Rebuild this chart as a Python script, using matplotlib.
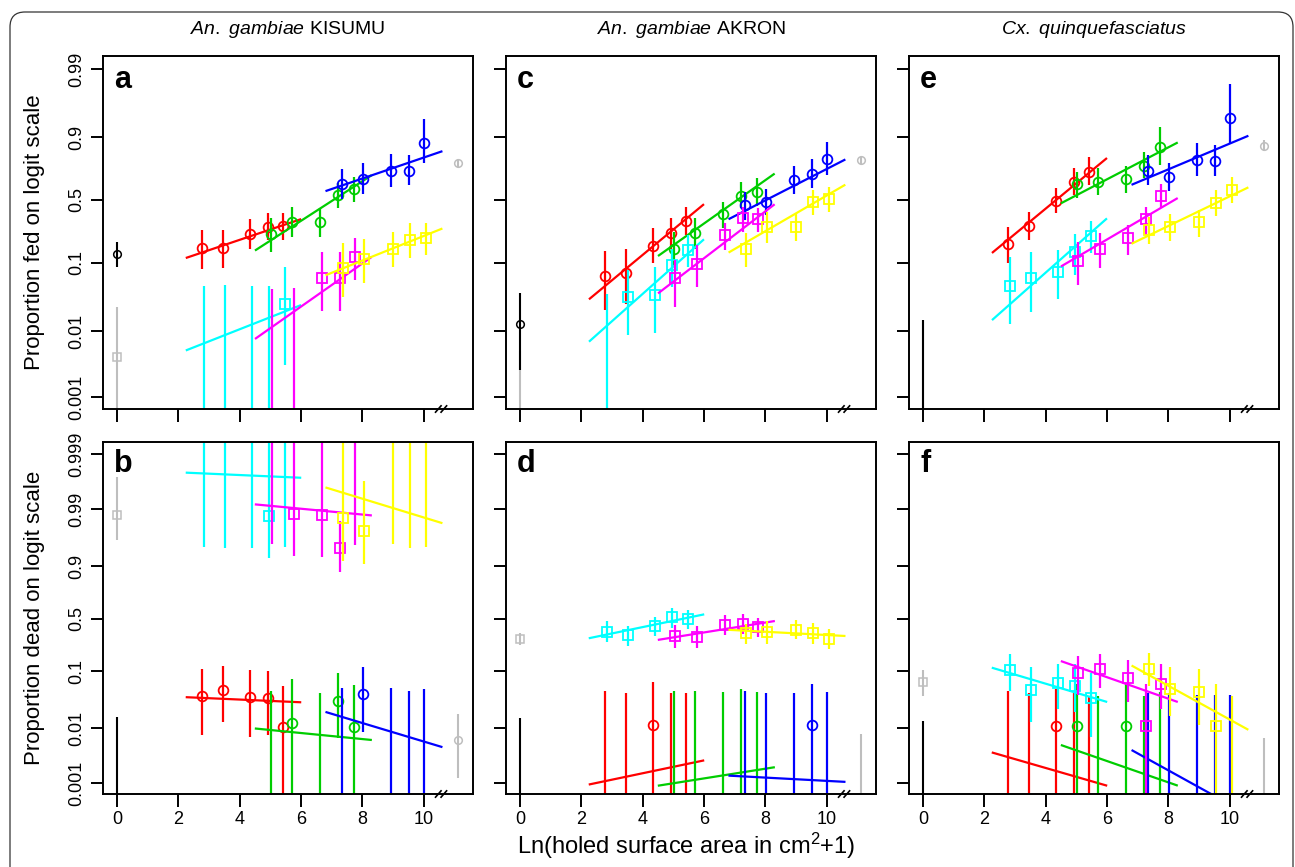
import numpy as np
import matplotlib
matplotlib.use('Agg')
import matplotlib.pyplot as plt
from matplotlib.patches import FancyBboxPatch
from matplotlib.ticker import NullLocator
from matplotlib.transforms import blended_transform_factory

plt.rcParams['font.family'] = ['Liberation Sans', 'DejaVu Sans']
plt.rcParams['mathtext.fontset'] = 'custom'
plt.rcParams['mathtext.rm'] = 'Liberation Sans'
plt.rcParams['mathtext.it'] = 'Liberation Sans:italic'

nan = np.nan

# ln(holed area + 1) for each hole-size class (circles = fed/dead groups, squares offset a bit)
x_small_c = [2.78, 3.45, 4.34, 4.92, 5.42]
x_med_c = [5.03, 5.71, 6.62, 7.20, 7.73]
x_large_c = [7.33, 8.02, 8.93, 9.51, 10.02]
x_small_s = [2.83, 3.51, 4.39, 4.97, 5.47]
x_med_s = [5.07, 5.77, 6.68, 7.26, 7.77]
x_large_s = [7.37, 8.06, 8.98, 9.56, 10.07]
x_ctrl = [0, 0, 11.1]   # untreated (black), control (grey square), intact (grey circle)

# rows: red, green, blue, cyan, magenta, yellow
# --- a: proportion fed, An. gambiae KISUMU
a_est = [[0.158, 0.158, 0.231, 0.281, 0.289],
         [0.231, 0.318, 0.316, 0.541, 0.595],
         [0.634, 0.677, 0.737, 0.737, 0.880],
         [nan, nan, nan, nan, 0.0253],
         [nan, nan, 0.0613, 0.0613, 0.118],
         [0.0855, 0.112, 0.153, 0.198, 0.207]]
a_lo = [[0.082, 0.085, 0.152, 0.198, 0.198],
        [0.141, 0.213, 0.216, 0.428, 0.485],
        [0.506, 0.552, 0.615, 0.629, 0.784],
        [0, 0, 0, 0, 0.00305],
        [0, 0, 0.0202, 0.0198, 0.0568],
        [0.0326, 0.0511, 0.0862, 0.114, 0.127]]
a_hi = [[0.259, 0.259, 0.338, 0.389, 0.385],
        [0.345, 0.442, 0.428, 0.648, 0.694],
        [0.746, 0.784, 0.833, 0.829, 0.944],
        [0.047, 0.048, 0.047, 0.047, 0.088],
        [0.042, 0.043, 0.141, 0.141, 0.207],
        [0.179, 0.201, 0.248, 0.310, 0.310]]
a_fit = [(-2.85, 0.363), (-4.90, 0.695), (-2.19, 0.368),
         (-6.23, 0.424), (-8.28, 0.757), (-5.57, 0.431)]
a_ctrl = [(0.131, 0.088, 0.185), (0.0041, 0, 0.023), (0.787, 0.76, 0.81)]

# --- c: proportion fed, An. gambiae AKRON
c_est = [[0.064, 0.072, 0.168, 0.237, 0.325],
         [0.154, 0.237, 0.380, 0.535, 0.567],
         [0.456, 0.485, 0.668, 0.711, 0.808],
         [nan, 0.0326, 0.0345, 0.092, 0.148],
         [0.0613, 0.0953, 0.224, 0.350, 0.336],
         [0.154, 0.277, 0.281, 0.480, 0.509]]
c_lo = [[0.021, 0.0258, 0.098, 0.154, 0.226],
        [0.088, 0.154, 0.271, 0.428, 0.448],
        [0.332, 0.371, 0.552, 0.601, 0.706],
        [0, 0.0087, 0.0092, 0.0456, 0.088],
        [0.0232, 0.0456, 0.148, 0.248, 0.248],
        [0.0862, 0.179, 0.19, 0.371, 0.399]]
c_hi = [[0.144, 0.151, 0.271, 0.345, 0.442],
        [0.248, 0.345, 0.485, 0.655, 0.681],
        [0.572, 0.593, 0.767, 0.807, 0.886],
        [0.0356, 0.079, 0.088, 0.154, 0.226],
        [0.108, 0.171, 0.310, 0.442, 0.43],
        [0.241, 0.399, 0.39, 0.587, 0.615]]
c_fit = [(-5.49, 0.891), (-5.39, 0.761), (-4.42, 0.551),
         (-7.13, 0.959), (-6.98, 0.823), (-6.10, 0.626)]
c_ctrl = [(0.0127, 0.00257, 0.0366), (nan, 0, 0.005), (0.80, 0.78, 0.82)]

# --- e: proportion fed, Cx. quinquefasciatus
e_est = [[0.176, 0.289, 0.494, 0.655, 0.729],
         [0.634, 0.655, 0.677, 0.767, 0.864],
         [0.737, 0.690, 0.802, 0.799, 0.947],
         [0.047, 0.060, 0.0745, 0.141, 0.221],
         [0.106, 0.153, 0.211, 0.339, 0.535],
         [0.259, 0.277, 0.314, 0.471, 0.587]]
e_lo = [[0.098, 0.198, 0.385, 0.544, 0.629],
        [0.515, 0.544, 0.565, 0.681, 0.774],
        [0.629, 0.582, 0.698, 0.698, 0.882],
        [0.0127, 0.0195, 0.0299, 0.067, 0.134],
        [0.048, 0.083, 0.127, 0.226, 0.428],
        [0.176, 0.193, 0.216, 0.363, 0.477]]
e_hi = [[0.281, 0.399, 0.601, 0.752, 0.821],
        [0.729, 0.752, 0.767, 0.845, 0.928],
        [0.829, 0.784, 0.880, 0.873, 0.983],
        [0.118, 0.137, 0.148, 0.233, 0.323],
        [0.188, 0.241, 0.293, 0.442, 0.637],
        [0.358, 0.380, 0.413, 0.587, 0.690]]
e_fit = [(-3.86, 0.889), (-2.64, 0.561), (-2.54, 0.452),
         (-6.36, 0.953), (-5.17, 0.631), (-5.07, 0.52)]
e_ctrl = [(nan, 0, 0.0146), (nan, 0, 0.0146), (0.871, 0.85, 0.89)]

# --- b: proportion dead, An. gambiae KISUMU
b_est = [[0.0385, 0.048, 0.0356, 0.0345, 0.0104],
         [nan, 0.0127, nan, 0.0314, 0.0106],
         [nan, 0.0415, nan, nan, nan],
         [nan, nan, nan, 0.9869, nan],
         [nan, 0.988, 0.9873, 0.951, nan],
         [0.9854, 0.9751, nan, nan, nan]]
b_lo = [[0.0077, 0.013, 0.0071, 0.0077, 0],
        [0, 0, 0, 0.0066, 0],
        [0, 0.0085, 0, 0, 0],
        [0.953, 0.952, 0.952, 0.928, 0.953],
        [0.958, 0.934, 0.93, 0.876, 0.956],
        [0.92, 0.910, 0.959, 0.952, 0.954]]
b_hi = [[0.109, 0.121, 0.103, 0.10, 0.056],
        [0.047, 0.073, 0.042, 0.092, 0.058],
        [0.052, 0.118, 0.051, 0.046, 0.049],
        [1, 1, 1, 1, 1],
        [1, 1, 1, 0.984, 1],
        [1, 0.9969, 1, 1, 1]]
b_fit = [(-3.16, -0.057), (-4.03, -0.127), (-1.27, -0.388),
         (6.26, -0.057), (5.35, -0.122), (8.19, -0.394)]
b_ctrl = [(nan, 0, 0.0157), (0.9875, 0.964, 0.99743), (0.0062, 0.00123, 0.018)]

# --- d: proportion dead, An. gambiae AKRON
d_est = [[nan, nan, 0.0116, nan, nan],
         [nan, nan, nan, nan, nan],
         [nan, nan, nan, 0.0113, nan],
         [0.369, 0.337, 0.430, 0.514, 0.503],
         [0.328, 0.322, 0.437, 0.444, 0.419],
         [0.354, 0.369, 0.386, 0.359, 0.298]]
d_lo = [[0, 0, 0, 0, 0],
        [0, 0, 0, 0, 0],
        [0, 0, 0, 0, 0],
        [0.277, 0.242, 0.328, 0.403, 0.393],
        [0.23, 0.225, 0.337, 0.344, 0.319],
        [0.261, 0.261, 0.297, 0.261, 0.218]]
d_hi = [[0.046, 0.043, 0.0654, 0.043, 0.043],
        [0.047, 0.046, 0.045, 0.049, 0.045],
        [0.047, 0.043, 0.043, 0.062, 0.045],
        [0.472, 0.427, 0.521, 0.611, 0.591],
        [0.437, 0.427, 0.542, 0.55, 0.507],
        [0.444, 0.472, 0.485, 0.458, 0.393]]
d_fit = [(-7.56, 0.270), (-7.92, 0.204), (-6.11, -0.069),
         (-1.416, 0.267), (-1.82, 0.208), (0.0, -0.068)]
d_ctrl = [(nan, 0, 0.0153), (0.304, 0.25, 0.359), (nan, 0, 0.0078)]

# --- f: proportion dead, Cx. quinquefasciatus
f_est = [[nan, nan, 0.0109, nan, nan],
         [0.0109, nan, 0.0109, nan, nan],
         [nan, nan, nan, nan, nan],
         [0.103, 0.048, 0.063, 0.057, 0.035],
         [0.092, 0.107, 0.076, 0.0111, 0.061],
         [0.109, 0.050, 0.044, 0.0109, nan]]
f_lo = [[0, 0, 0, 0, 0],
        [0, 0, 0, 0, 0],
        [0, 0, 0, 0, 0],
        [0.047, 0.013, 0.0225, 0.020, 0.0071],
        [0.040, 0.052, 0.030, 0, 0.0225],
        [0.056, 0.0164, 0.0116, 0, 0]]
f_hi = [[0.046, 0.043, 0.049, 0.043, 0.038],
        [0.06, 0.038, 0.06, 0.038, 0.045],
        [0.043, 0.043, 0.04, 0.04, 0.04],
        [0.188, 0.116, 0.131, 0.131, 0.094],
        [0.174, 0.188, 0.149, 0.06, 0.129],
        [0.19, 0.116, 0.109, 0.06, 0.0385]]
f_fit = [(-4.77, -0.372), (-3.28, -0.448), (-0.665, -0.712),
         (-1.19, -0.383), (0.255, -0.451), (2.86, -0.709)]
f_ctrl = [(nan, 0, 0.0138), (0.0654, 0.0373, 0.103), (nan, 0, 0.0068)]

titles = ['An. gambiae', 'An. gambiae', 'Cx. quinquefasciatus']
strains = [' KISUMU', ' AKRON', '']
fed_ticks = [0.001, 0.01, 0.1, 0.5, 0.9, 0.99]
dead_ticks = [0.001, 0.01, 0.1, 0.5, 0.9, 0.99, 0.999]

colors = ['#FF0000', '#00CD00', '#0000FF', '#00FFFF', '#FF00FF', '#FFFF00']
markers = ['o', 'o', 'o', 's', 's', 's']
xs_all = [x_small_c, x_med_c, x_large_c, x_small_s, x_med_s, x_large_s]
GREY = '#BEBEBE'

fig = plt.figure(figsize=(12.95, 8.67), dpi=100)
W, H = 1295, 867
lefts = [103, 506, 909]


def draw(ax, est, lo, hi, fit, ctrl, letter, ticks, ylim, row, col):
    ax.set_yscale('logit', nonpositive='clip')
    ax.set_xlim(-0.45, 11.6)
    ax.set_ylim(*ylim)
    # controls: grey first, black on top
    for (p, l, h), xc, mk, colr in [(ctrl[1], x_ctrl[1], 's', GREY),
                                   (ctrl[2], x_ctrl[2], 'o', GREY),
                                   (ctrl[0], x_ctrl[0], 'o', 'black')]:
        ax.vlines(xc, l, h, color=colr, lw=1.5)
        ax.plot([xc], [p], ls='none', marker=mk, ms=5.5, mfc='none', mec=colr, mew=1.1)
    for k in range(6):
        xs = xs_all[k]
        ax.vlines(xs, lo[k], hi[k], color=colors[k], lw=1.6)
        ax.plot(xs, est[k], ls='none', marker=markers[k], ms=7, mfc='none',
                mec=colors[k], mew=1.3)
        size = k % 3
        xl = np.array([xs_all[size][0] - 0.5, xs_all[size + 3][-1] + 0.5])
        a0, b0 = fit[k]
        ax.plot(xl, 1 / (1 + np.exp(-(a0 + b0 * xl))), color=colors[k], lw=1.6)

    ax.set_yticks(ticks, [str(t) for t in ticks], rotation=90, va='center')
    ax.yaxis.set_minor_locator(NullLocator())
    ax.set_xticks([0, 2, 4, 6, 8, 10])
    ax.tick_params(direction='out', length=9, width=1.4, labelsize=13, pad=3)
    ax.tick_params(axis='y', pad=4)
    if col > 0:
        ax.tick_params(labelleft=False)
    if row == 0:
        ax.tick_params(labelbottom=False)
    for s in ax.spines.values():
        s.set_linewidth(1.4)
    ax.text(0.03, 0.91 if row == 0 else 0.915, letter, transform=ax.transAxes,
            fontsize=22, fontweight='bold', va='baseline', ha='left')
    # axis break marks
    tr = blended_transform_factory(ax.transData, ax.transAxes)
    for dx in (-0.09, 0.09):
        ax.plot([10.56 + dx - 0.09, 10.56 + dx + 0.09], [-0.009, 0.009],
                transform=tr, color='black', lw=1.2, clip_on=False)


panels = [
    (0, 0, a_est, a_lo, a_hi, a_fit, a_ctrl, 'a'),
    (1, 0, c_est, c_lo, c_hi, c_fit, c_ctrl, 'c'),
    (2, 0, e_est, e_lo, e_hi, e_fit, e_ctrl, 'e'),
    (0, 1, b_est, b_lo, b_hi, b_fit, b_ctrl, 'b'),
    (1, 1, d_est, d_lo, d_hi, d_fit, d_ctrl, 'd'),
    (2, 1, f_est, f_lo, f_hi, f_fit, f_ctrl, 'f'),
]

for col, row, est, lo, hi, fit, ctrl, letter in panels:
    if row == 0:
        rect = [lefts[col] / W, 1 - 409 / H, 370 / W, 353 / H]
        ticks, ylim = fed_ticks, (6.55e-4, 0.99363)
    else:
        rect = [lefts[col] / W, 1 - 794 / H, 370 / W, 352 / H]
        ticks, ylim = dead_ticks, (6.42e-4, 0.99940)
    ax = fig.add_axes(rect)
    draw(ax, est, lo, hi, fit, ctrl, letter, ticks, ylim, row, col)
    if row == 0:
        ttl = r'$\it{' + titles[col].replace(' ', r'\ ') + '}$' + strains[col]
        ax.set_title(ttl, fontsize=14, pad=16)

fig.text(35 / W, 1 - 232 / H, 'Proportion fed on logit scale', rotation=90,
         ha='center', va='center', fontsize=16)
fig.text(35 / W, 1 - 618 / H, 'Proportion dead on logit scale', rotation=90,
         ha='center', va='center', fontsize=16)
fig.text(686 / W, 1 - 846 / H, r'Ln(holed surface area in cm$^2$+1)',
         ha='center', va='center', fontsize=17)

border = FancyBboxPatch((0.10, -0.3), 12.83, 8.85,
                        boxstyle='round,pad=0,rounding_size=0.15',
                        transform=fig.dpi_scale_trans, fill=False,
                        ec='#333333', lw=0.9)
fig.add_artist(border)

fig.savefig('out.png', dpi=100)
